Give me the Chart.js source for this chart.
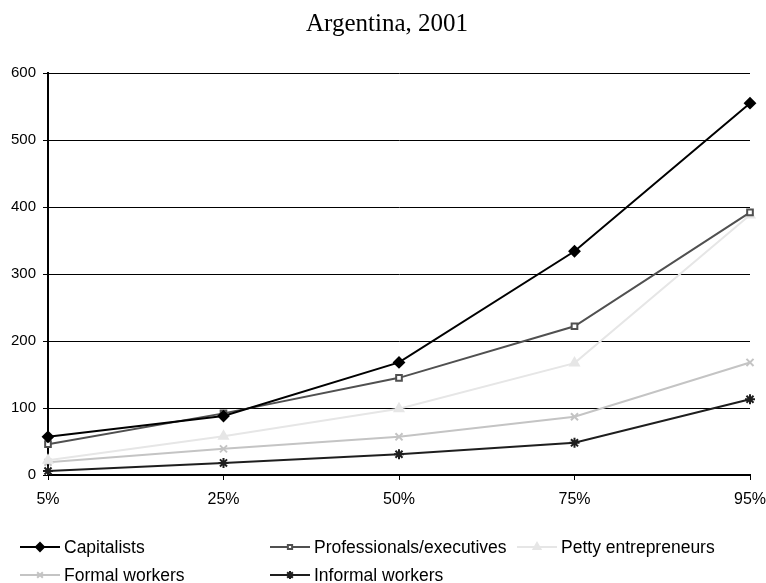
<!DOCTYPE html>
<html>
<head>
<meta charset="utf-8">
<script src="https://cdn.jsdelivr.net/npm/chart.js@4"></script>
<style>
  html, body { margin: 0; padding: 0; background: #fff; }
  #wrap { width: 766px; height: 583px; position: relative; }
</style>
</head>
<body>
<div id="wrap"><canvas id="incomeChart" width="766" height="583"></canvas></div>
<script>
// percentiles on the x axis
const percentiles = ["5%", "25%", "50%", "75%", "95%"];
const yTicks = [0, 100, 200, 300, 400, 500, 600];

// values
const capitalists = [57, 88, 168, 334, 555];
const professionals = [46, 92, 145, 222, 392];
const pettyEntrepreneurs = [22, 58, 99, 167, 388];
const formalWorkers = [19, 39, 57, 87, 168];
const informalWorkers = [6, 18, 31, 48, 113];

const seriesNames = ["Capitalists", "Professionals/executives", "Petty entrepreneurs", "Formal workers", "Informal workers"];

const ctx = document.getElementById("incomeChart").getContext("2d");
const SANS = "'Liberation Sans', Arial, sans-serif";

function makeSet(label, data, color, style, fill, radius) {
  return {
    label,
    data,
    borderColor: color,
    backgroundColor: fill,
    borderWidth: 2,
    tension: 0,
    pointStyle: style,
    pointRadius: radius,
    pointBorderColor: color,
    pointBackgroundColor: fill,
    pointBorderWidth: 2,
  };
}

const datasets = [
  makeSet(seriesNames[0], capitalists, "#000000", "rectRot", "#000000", 5),
  makeSet(seriesNames[1], professionals, "#505050", "rect", "#ffffff", 4),
  makeSet(seriesNames[2], pettyEntrepreneurs, "#e6e6e6", "triangle", "#e6e6e6", 5),
  makeSet(seriesNames[3], formalWorkers, "#c4c4c4", "crossRot", "#c4c4c4", 5),
  makeSet(seriesNames[4], informalWorkers, "#1e1e1e", "star", "#1e1e1e", 5),
];

// title + legend drawn by hand so the two-row layout matches
const legendSpots = [
  [20, 547], [270, 547], [517, 547],
  [20, 575], [270, 575],
];

const decorPlugin = {
  id: "decor",
  afterDraw(chart) {
    const c = chart.ctx;
    c.save();
    c.fillStyle = "#000";
    c.font = "25px 'Liberation Serif', 'Times New Roman', serif";
    c.textAlign = "center";
    c.textBaseline = "alphabetic";
    c.fillText("Argentina, 2001", 387, 31);

    c.font = "17.5px " + SANS;
    c.textAlign = "left";
    c.textBaseline = "middle";
    chart.data.datasets.forEach((ds, i) => {
      const [x, y] = legendSpots[i];
      c.strokeStyle = ds.borderColor;
      c.lineWidth = 2;
      c.beginPath();
      c.moveTo(x, y);
      c.lineTo(x + 40, y);
      c.stroke();
      c.fillStyle = ds.pointBackgroundColor;
      c.strokeStyle = ds.pointBorderColor;
      Chart.helpers.drawPoint(c, {
        pointStyle: ds.pointStyle,
        radius: ds.pointRadius - 1,
        borderWidth: 2,
        rotation: 0,
      }, x + 20, y);
      c.fillStyle = "#000";
      c.fillText(ds.label, x + 44, y + 1);
    });
    c.restore();
  },
};

new Chart(ctx, {
  type: "line",
  data: { labels: percentiles, datasets },
  options: {
    responsive: false,
    animation: false,
    layout: { padding: { top: 73, right: 16, left: 0, bottom: 0 } },
    plugins: {
      legend: { display: false },
      title: { display: false },
      tooltip: { enabled: false },
    },
    scales: {
      x: {
        offset: false,
        afterFit(scale) {
          scale.height = 108;
          scale.paddingLeft = 0;
          scale.paddingRight = 0;
        },
        border: { color: "#000", width: 2 },
        grid: { drawOnChartArea: false, drawTicks: true, tickLength: 5, color: "#000", lineWidth: 1 },
        ticks: { color: "#000", font: { size: 16, family: SANS }, padding: 10, maxRotation: 0 },
      },
      y: {
        min: 0,
        max: 600,
        afterFit(scale) { scale.width = 48; },
        afterBuildTicks(scale) { scale.ticks = yTicks.map((v) => ({ value: v })); },
        border: { color: "#000", width: 2 },
        grid: { color: "#000", lineWidth: 1, tickLength: 5 },
        ticks: { color: "#000", font: { size: 15, family: SANS }, padding: 7 },
      },
    },
  },
  plugins: [decorPlugin],
});
</script>
</body>
</html>
